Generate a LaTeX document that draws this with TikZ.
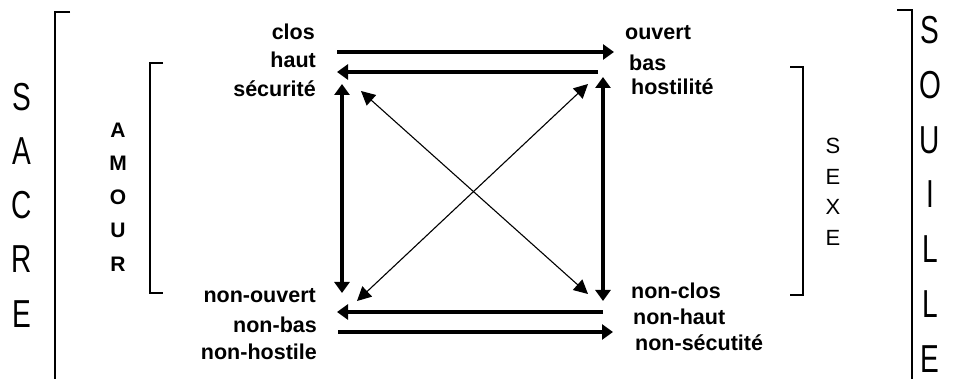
\documentclass[tikz,border=0pt]{standalone}
\usepackage{fontspec}
\setmainfont{Liberation Sans}
\usetikzlibrary{arrows.meta}
\tikzset{
  lbl/.style={inner sep=0pt, font=\bfseries\fontsize{21.5}{24}\selectfont, text height=15pt, text depth=0pt},
  lblL/.style={lbl, anchor=east},
  lblR/.style={lbl, anchor=west},
  bigletter/.style={inner sep=0pt, font=\fontsize{39}{40}\selectfont, text height=28pt, text depth=0pt},
  midletterB/.style={inner sep=0pt, font=\bfseries\fontsize{21}{22}\selectfont, text height=15pt, text depth=0pt},
  midletter/.style={inner sep=0pt, font=\fontsize{22}{24}\selectfont, text height=16pt, text depth=0pt},
  bracketline/.style={line width=1.6pt},
  thickarrow/.style={line width=3.5pt, -{Triangle[length=11pt,width=15pt]}},
  thickdouble/.style={line width=3.5pt, {Triangle[length=11pt,width=15pt]}-{Triangle[length=11pt,width=15pt]}},
  thindouble/.style={line width=1.1pt, {Triangle[length=14pt,width=14pt]}-{Triangle[length=14pt,width=14pt]}}
}
\newcommand{\narrowletter}[1]{\scalebox{0.72}[1]{#1}}
\begin{document}
\begin{tikzpicture}[x=1pt,y=-1pt]
\useasboundingbox (0,0) rectangle (953,379);
% brackets
\draw[bracketline] (70,12) -- (55,12) -- (55,379);
\draw[bracketline] (897,10) -- (912,10) -- (912,379);
\draw[bracketline] (163,63) -- (150,63) -- (150,293) -- (163,293);
\draw[bracketline] (790,67) -- (803,67) -- (803,295) -- (790,295);
% SACRE
\node[bigletter] (sa1) at (22,97) {\narrowletter{S}};
\node[bigletter] (sa2) at (22,151) {\narrowletter{A}};
\node[bigletter] (sa3) at (22,205) {\narrowletter{C}};
\node[bigletter] (sa4) at (22,259) {\narrowletter{R}};
\node[bigletter] (sa5) at (22,313) {\narrowletter{E}};
% SOUILLE
\node[bigletter] (so1) at (930,30) {\narrowletter{S}};
\node[bigletter] (so2) at (930,85) {\narrowletter{O}};
\node[bigletter] (so3) at (930,140) {\narrowletter{U}};
\node[bigletter] (so4) at (930,194) {\narrowletter{I}};
\node[bigletter] (so5) at (930,249) {\narrowletter{L}};
\node[bigletter] (so6) at (930,303) {\narrowletter{L}};
\node[bigletter] (so7) at (930,358) {\narrowletter{E}};
% AMOUR
\node[midletterB] (am1) at (118,130) {A};
\node[midletterB] (am2) at (118,163) {M};
\node[midletterB] (am3) at (118,197) {O};
\node[midletterB] (am4) at (118,230) {U};
\node[midletterB] (am5) at (118,264) {R};
% SEXE
\node[midletter] (se1) at (833,146) {S};
\node[midletter] (se2) at (833,177) {E};
\node[midletter] (se3) at (833,207) {X};
\node[midletter] (se4) at (833,238) {E};
% labels left
\node[lblL] (clos) at (315,32) {clos};
\node[lblL] (haut) at (316,60) {haut};
\node[lblL] (secu) at (316,89) {sécurité};
\node[lblL] (nouv) at (316,295) {non-ouvert};
\node[lblL] (nbas) at (317,325) {non-bas};
\node[lblL] (nhost) at (317,352) {non-hostile};
% labels right
\node[lblR] (ouv) at (625,32) {ouvert};
\node[lblR] (bas) at (629,63) {bas};
\node[lblR] (host) at (631,87) {hostilité};
\node[lblR] (nclos) at (631,291) {non-clos};
\node[lblR] (nhaut) at (633,317) {non-haut};
\node[lblR] (nsecu) at (635,343) {non-sécutité};
% arrow end points
\coordinate (t1a) at (337,52);  \coordinate (t1b) at (614,52);
\coordinate (t2a) at (598,72);  \coordinate (t2b) at (337,72);
\coordinate (b1a) at (603,312); \coordinate (b1b) at (337,312);
\coordinate (b2a) at (338,332); \coordinate (b2b) at (613,332);
\coordinate (vLa) at (342,84);  \coordinate (vLb) at (342,293);
\coordinate (vRa) at (603,77);  \coordinate (vRb) at (603,301);
\coordinate (d1a) at (361,91);  \coordinate (d1b) at (588,294);
\coordinate (d2a) at (588,84);  \coordinate (d2b) at (357,301);
% arrows
\draw[thickarrow] (t1a) -- (t1b);
\draw[thickarrow] (t2a) -- (t2b);
\draw[thickarrow] (b1a) -- (b1b);
\draw[thickarrow] (b2a) -- (b2b);
\draw[thickdouble] (vLa) -- (vLb);
\draw[thickdouble] (vRa) -- (vRb);
\draw[thindouble] (d1a) -- (d1b);
\draw[thindouble] (d2a) -- (d2b);
\end{tikzpicture}
\end{document}
